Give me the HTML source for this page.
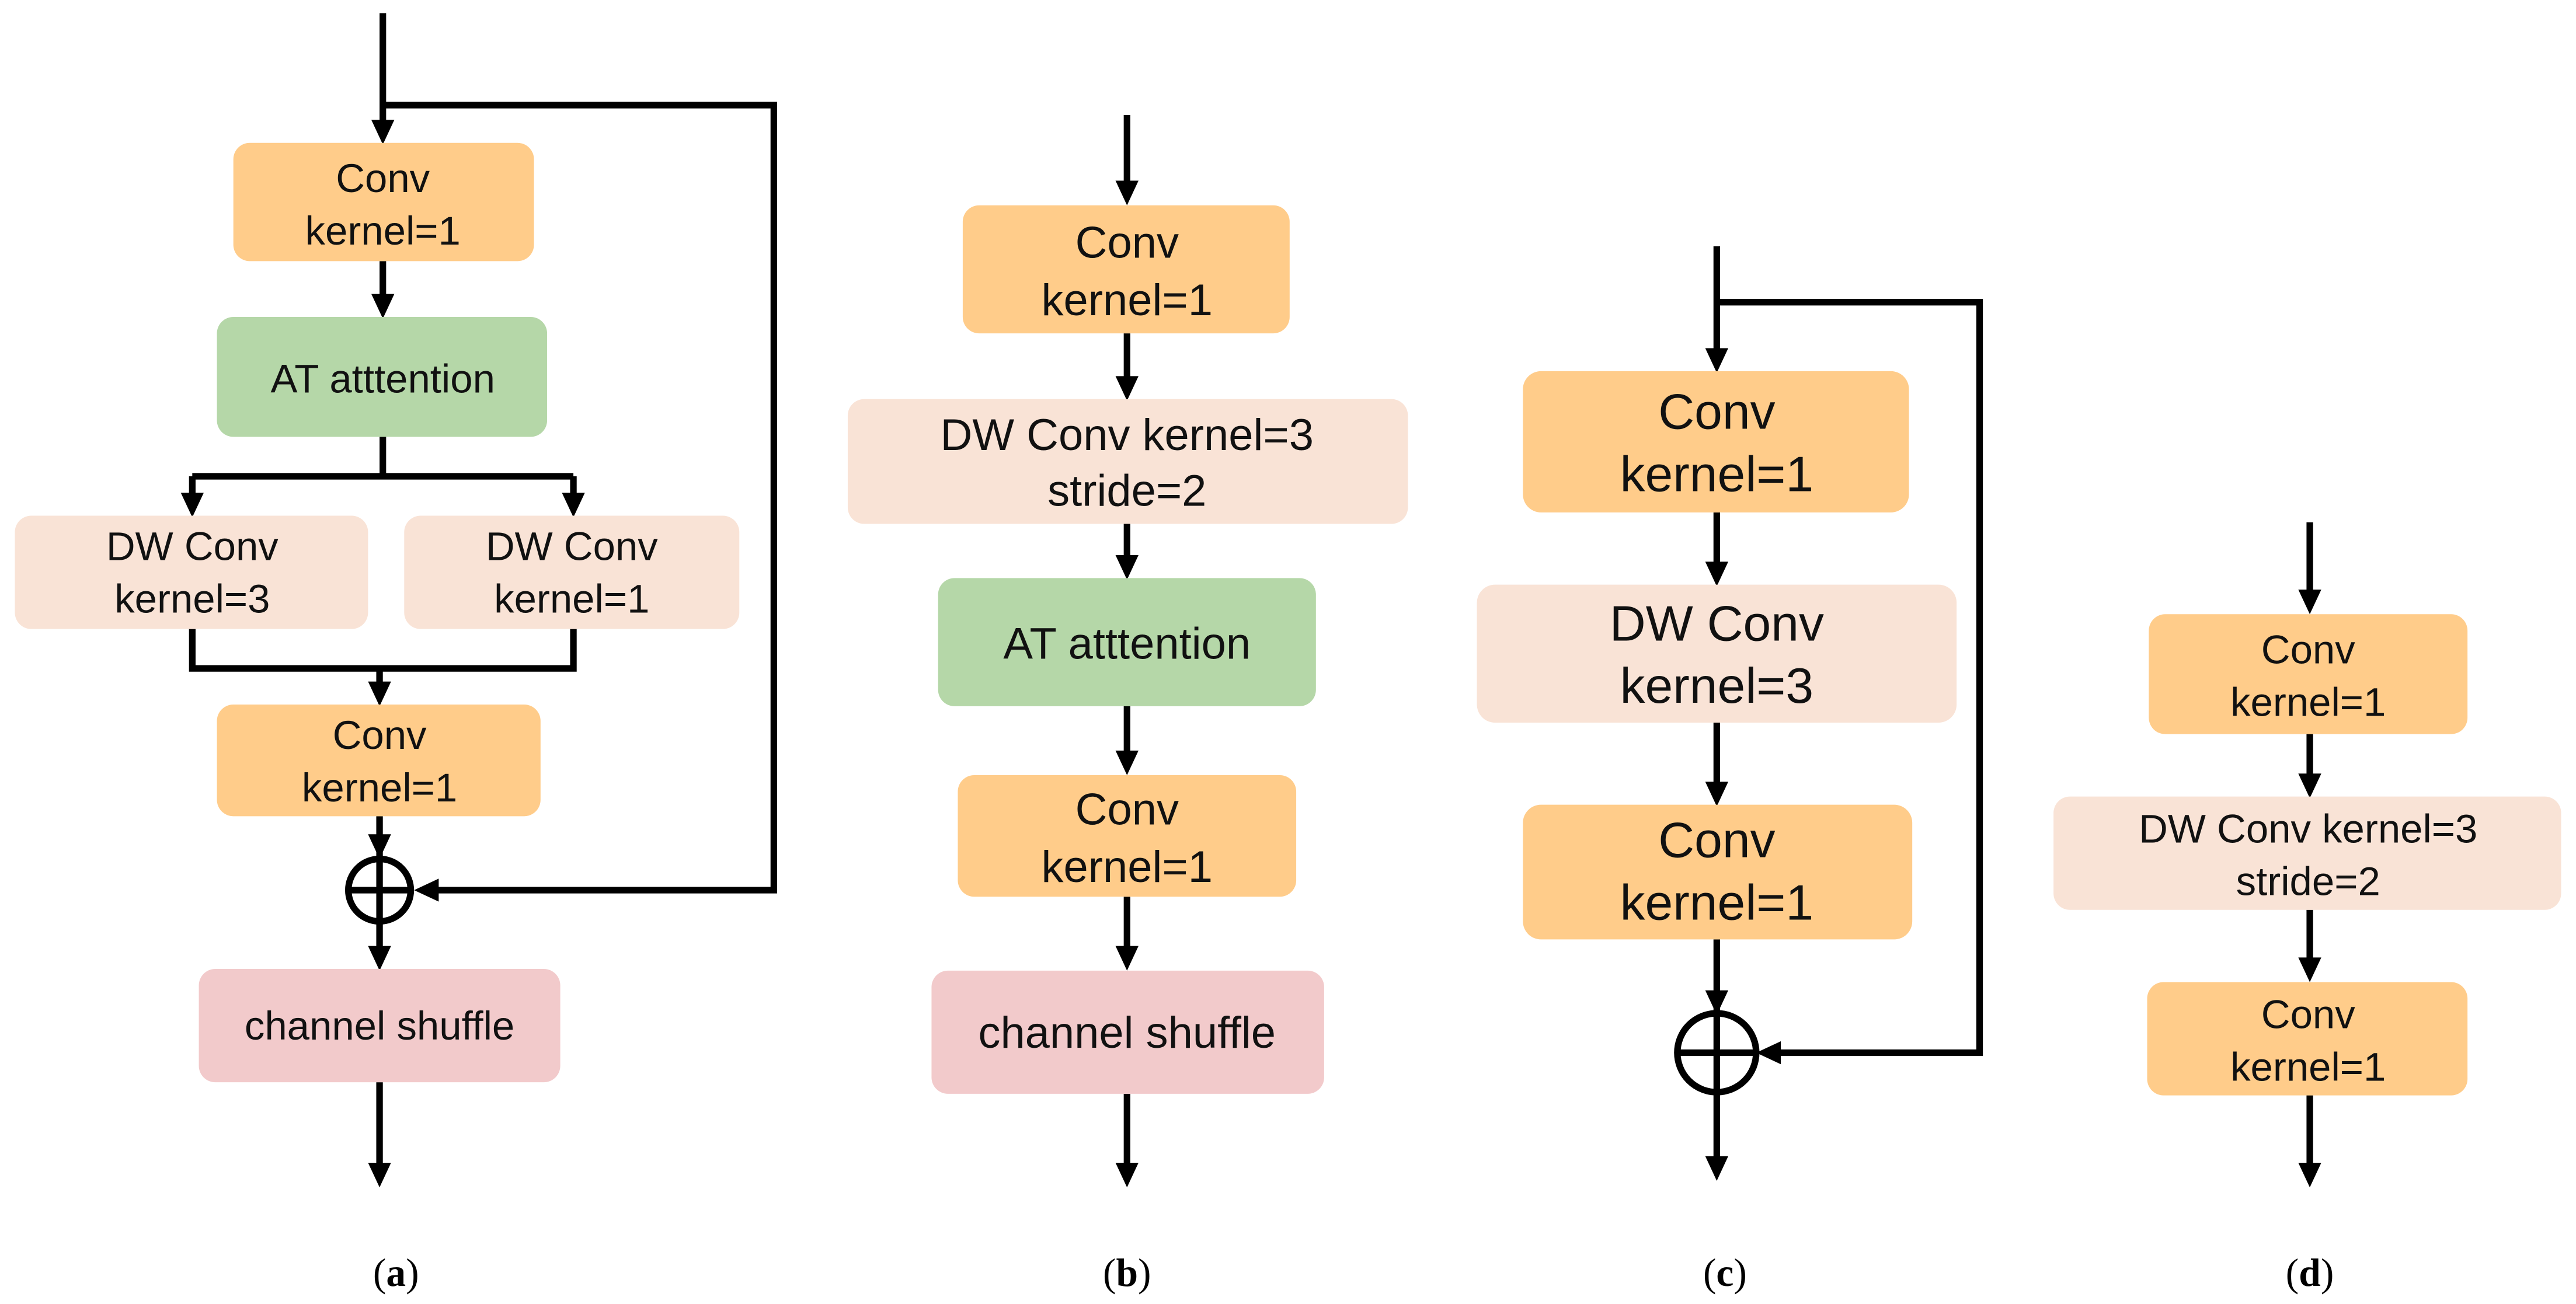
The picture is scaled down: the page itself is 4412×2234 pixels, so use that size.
<!DOCTYPE html>
<html><head><meta charset="utf-8"><style>html,body{margin:0;padding:0;background:#fff}svg{display:block}
.s{font-family:"Liberation Sans",Arial,sans-serif}
.r{font-family:"Liberation Serif","Times New Roman",serif}</style></head>
<body>
<svg width="4412" height="2234" viewBox="0 0 1568 794" xmlns="http://www.w3.org/2000/svg" text-anchor="middle">
<g stroke="#000" stroke-width="4" fill="none">
<path d="M233,8 V80"/>
<path d="M233,64 H471 V542 H262"/>
<path d="M233,159 V186"/>
<path d="M233,266 V290"/>
<path d="M117,290 H349"/>
<path d="M117,290 V307"/>
<path d="M349,290 V307"/>
<path d="M117,383 V407 H349 V383"/>
<path d="M231,407 V422"/>
<path d="M231,497 V583"/>
<circle cx="231" cy="542" r="19"/>
<path d="M212,542 H250"/>
<path d="M231,659 V715"/>
<path d="M686,70 V117"/>
<path d="M686,203 V236"/>
<path d="M686,319 V345"/>
<path d="M686,430 V464"/>
<path d="M686,546 V583"/>
<path d="M686,666 V715"/>
<path d="M1045,150 V219"/>
<path d="M1045,184 H1205 V641 H1078"/>
<path d="M1045,312 V349"/>
<path d="M1045,440 V483"/>
<path d="M1045,572 V711"/>
<circle cx="1045" cy="641" r="24"/>
<path d="M1021,641 H1069"/>
<path d="M1406,318 V366"/>
<path d="M1406,447 V478"/>
<path d="M1406,554 V590"/>
<path d="M1406,667 V715"/>
</g>
<g fill="#000">
<polygon points="226,73 240,73 233,88"/>
<polygon points="226,179 240,179 233,194"/>
<polygon points="110,300 124,300 117,315"/>
<polygon points="342,300 356,300 349,315"/>
<polygon points="224,415 238,415 231,430"/>
<polygon points="224,508 238,508 231,523"/>
<polygon points="224,576 238,576 231,591"/>
<polygon points="224,708 238,708 231,723"/>
<polygon points="252,542 267,535 267,549"/>
<polygon points="679,110 693,110 686,125"/>
<polygon points="679,229 693,229 686,244"/>
<polygon points="679,338 693,338 686,353"/>
<polygon points="679,457 693,457 686,472"/>
<polygon points="679,576 693,576 686,591"/>
<polygon points="679,708 693,708 686,723"/>
<polygon points="1038,212 1052,212 1045,227"/>
<polygon points="1038,342 1052,342 1045,357"/>
<polygon points="1038,476 1052,476 1045,491"/>
<polygon points="1038,603 1052,603 1045,618"/>
<polygon points="1038,704 1052,704 1045,719"/>
<polygon points="1069,641 1084,634 1084,648"/>
<polygon points="1399,359 1413,359 1406,374"/>
<polygon points="1399,471 1413,471 1406,486"/>
<polygon points="1399,583 1413,583 1406,598"/>
<polygon points="1399,708 1413,708 1406,723"/>
</g>
<g>
<rect x="142" y="87" width="183" height="72" rx="10" fill="#FFCC8A"/>
<rect x="132" y="193" width="201" height="73" rx="10" fill="#B5D7A8"/>
<rect x="9" y="314" width="215" height="69" rx="10" fill="#F9E3D6"/>
<rect x="246" y="314" width="204" height="69" rx="10" fill="#F9E3D6"/>
<rect x="132" y="429" width="197" height="68" rx="10" fill="#FFCC8A"/>
<rect x="121" y="590" width="220" height="69" rx="10" fill="#F2CACB"/>
<rect x="586" y="125" width="199" height="78" rx="10" fill="#FFCC8A"/>
<rect x="516" y="243" width="341" height="76" rx="10" fill="#F9E3D6"/>
<rect x="571" y="352" width="230" height="78" rx="10" fill="#B5D7A8"/>
<rect x="583" y="472" width="206" height="74" rx="10" fill="#FFCC8A"/>
<rect x="567" y="591" width="239" height="75" rx="10" fill="#F2CACB"/>
<rect x="927" y="226" width="235" height="86" rx="11" fill="#FFCC8A"/>
<rect x="899" y="356" width="292" height="84" rx="11" fill="#F9E3D6"/>
<rect x="927" y="490" width="237" height="82" rx="11" fill="#FFCC8A"/>
<rect x="1308" y="374" width="194" height="73" rx="10" fill="#FFCC8A"/>
<rect x="1250" y="485" width="309" height="69" rx="10" fill="#F9E3D6"/>
<rect x="1307" y="598" width="195" height="69" rx="10" fill="#FFCC8A"/>
</g>
<g fill="#111" class="s">
<g font-size="24.5">
<text x="233" y="117">Conv</text><text x="233" y="149">kernel=1</text>
<text x="233" y="239">AT atttention</text>
<text x="117" y="341">DW Conv</text><text x="117" y="373">kernel=3</text>
<text x="348" y="341">DW Conv</text><text x="348" y="373">kernel=1</text>
<text x="231" y="456">Conv</text><text x="231" y="488">kernel=1</text>
<text x="231" y="633">channel shuffle</text>
</g>
<g font-size="27">
<text x="686" y="157">Conv</text><text x="686" y="192">kernel=1</text>
<text x="686" y="274">DW Conv kernel=3</text><text x="686" y="308">stride=2</text>
<text x="686" y="401">AT atttention</text>
<text x="686" y="502">Conv</text><text x="686" y="537">kernel=1</text>
<text x="686" y="638">channel shuffle</text>
</g>
<g font-size="30.5">
<text x="1045" y="261">Conv</text><text x="1045" y="299">kernel=1</text>
<text x="1045" y="390">DW Conv</text><text x="1045" y="428">kernel=3</text>
<text x="1045" y="522">Conv</text><text x="1045" y="560">kernel=1</text>
</g>
<g font-size="24.5">
<text x="1405" y="404">Conv</text><text x="1405" y="436">kernel=1</text>
<text x="1405" y="513">DW Conv kernel=3</text><text x="1405" y="545">stride=2</text>
<text x="1405" y="626">Conv</text><text x="1405" y="658">kernel=1</text>
</g>
</g>
<g class="r" font-size="24" fill="#000">
<text x="241" y="783">(<tspan font-weight="bold">a</tspan>)</text>
<text x="686" y="783">(<tspan font-weight="bold">b</tspan>)</text>
<text x="1050" y="783">(<tspan font-weight="bold">c</tspan>)</text>
<text x="1406" y="783">(<tspan font-weight="bold">d</tspan>)</text>
</g>
</svg>
</body></html>
